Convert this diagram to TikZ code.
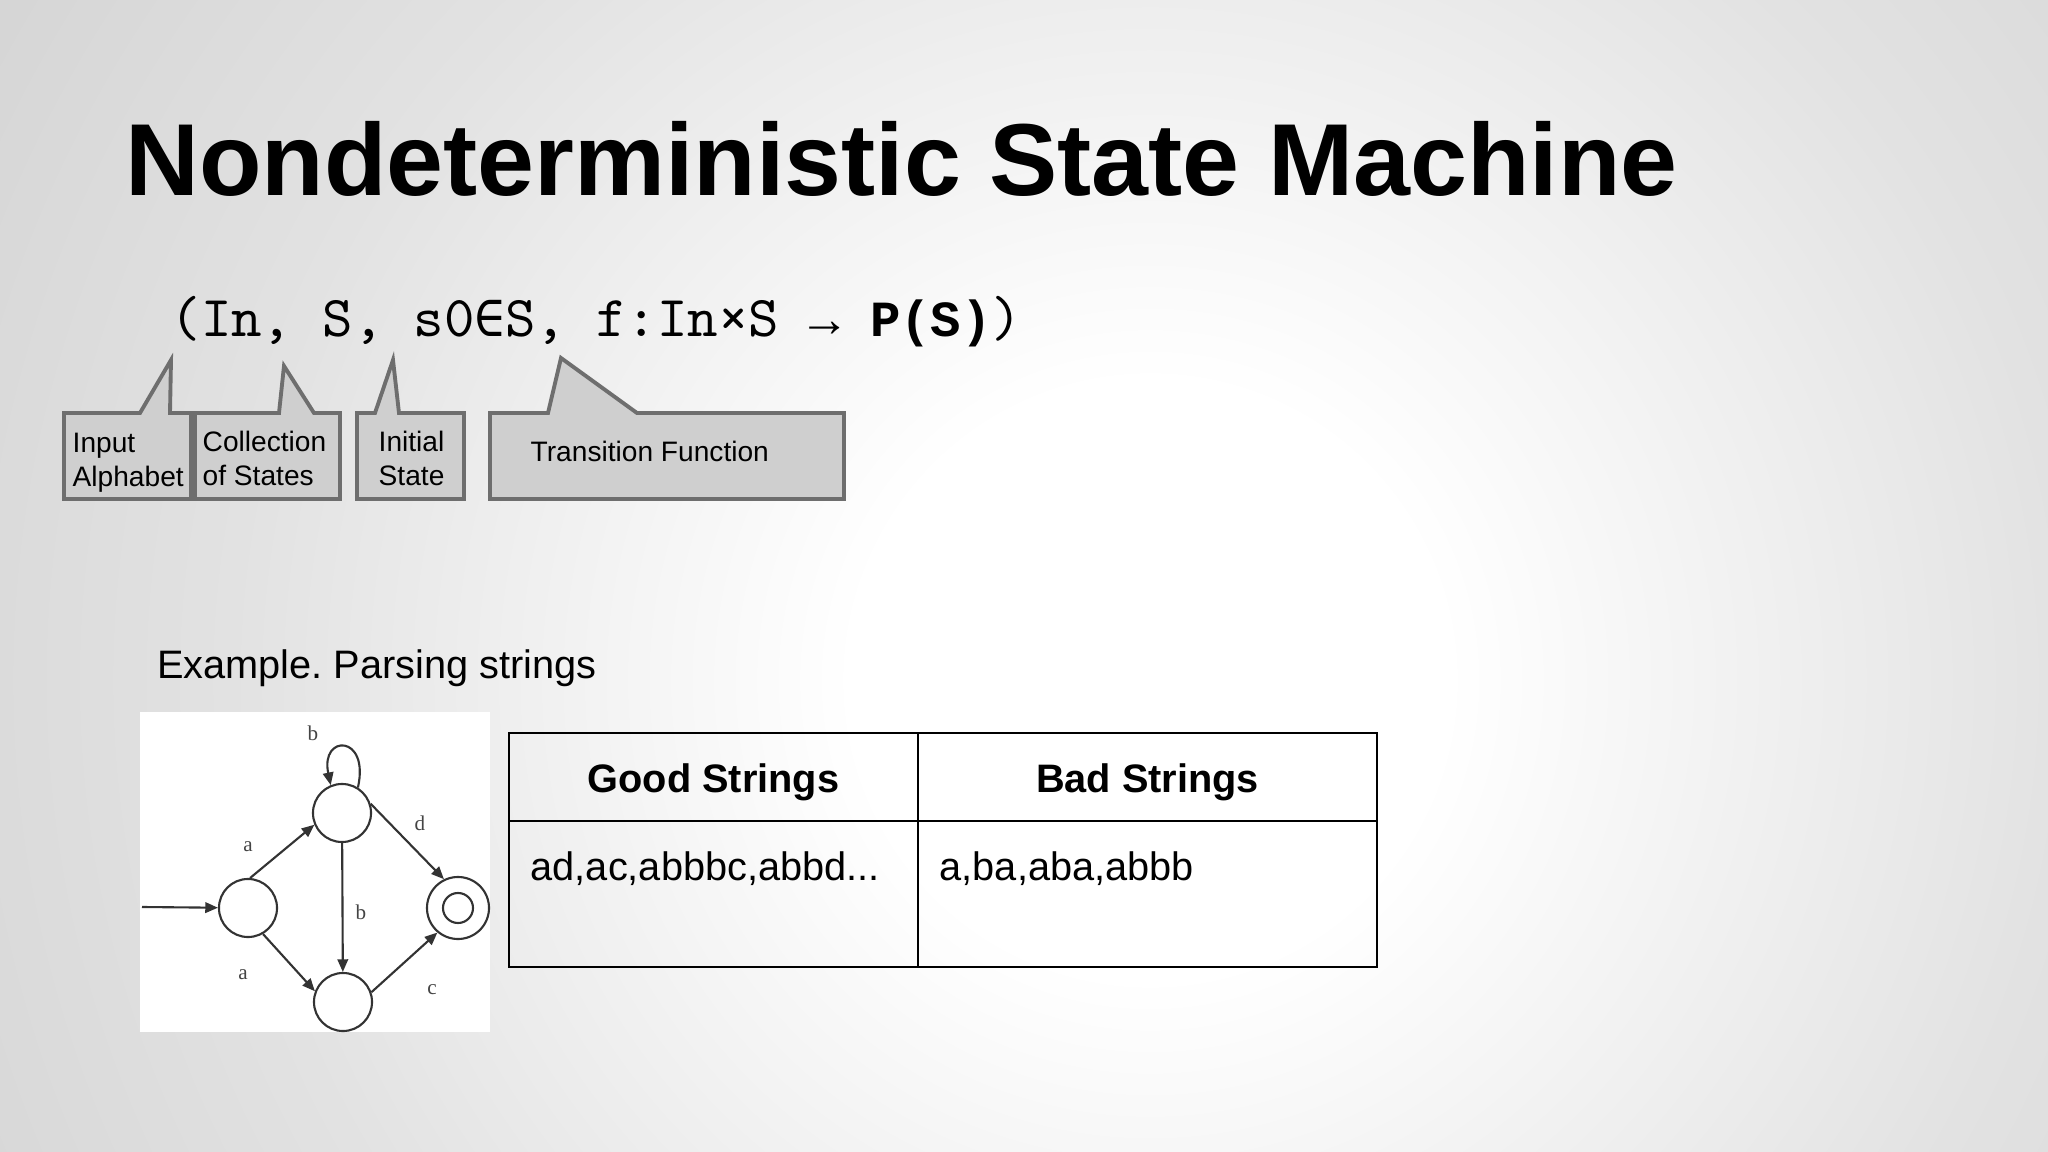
\documentclass[tikz,border=0pt]{standalone}
\usepackage{fontspec}
\setmainfont{Liberation Sans}
\newfontfamily\lmmono{lmmono10-regular}[Extension=.otf]
\newfontfamily\monofont{Liberation Mono}
\newfontfamily\djmono{DejaVu Sans Mono}
\newfontfamily\lblfont{Liberation Serif}
\usetikzlibrary{arrows.meta}
\frenchspacing
\definecolor{bgmid}{HTML}{E2E2E2}
\definecolor{bggray}{HTML}{CCCCCC}
\definecolor{calloutfill}{HTML}{CFCFCF}
\definecolor{calloutline}{HTML}{6E6E6E}
\definecolor{autline}{HTML}{333333}
\definecolor{lblcol}{HTML}{444444}
\pgfdeclareradialshading{bgshade}{\pgfpoint{0bp}{0bp}}{color(0bp)=(white); color(5.7bp)=(white); color(17.7bp)=(bgmid); color(31.8bp)=(bggray); color(50bp)=(bggray)}
\tikzset{
  callout/.style={fill=calloutfill, draw=calloutline, line width=1.1pt, line join=miter},
  callouttext/.style={inner sep=0pt, align=left, font=\fontsize{8}{9.6}\selectfont},
  tableline/.style={draw=black, line width=0.7pt},
  bodytext/.style={inner sep=0pt, font=\fontsize{11.3}{13.5}\selectfont},
  headtext/.style={inner sep=0pt, font=\fontsize{11.3}{13.5}\selectfont\bfseries},
  state/.style={circle, draw=autline, line width=0.6pt, minimum size=0.58cm, inner sep=0pt},
  autarrow/.style={draw=autline, line width=0.6pt, -{Triangle[length=3.6pt,width=3pt]}},
  lbl/.style={inner sep=0pt, text=lblcol, font=\lblfont\fontsize{6}{7}\selectfont}
}
\begin{document}
\begin{tikzpicture}[x=0.01cm,y=-0.01cm]
\useasboundingbox (0,0) rectangle (2048,1152);
\begin{scope}
  \clip (0,0) rectangle (2048,1152);
  \shade[shading=bgshade] (-150,-620) rectangle (2450,1980);
\end{scope}

% title
\node[anchor=base west, inner sep=0pt, font=\fontsize{29.1}{34}\selectfont\bfseries] (title) at (124.5,196) {Nondeterministic State Machine};

% formula
\node[anchor=base west, inner sep=0pt, font=\lmmono\fontsize{16.47}{19}\selectfont] (formula) at (170,337) {(In, S, s0{\djmono\fontsize{14.4}{17}\selectfont ∈}S, f:In×S {\monofont\fontsize{14.4}{17}\selectfont →} {\monofont\bfseries\fontsize{14.4}{17}\selectfont P(S)})};

% callouts
\draw[callout] (64,413) -- (140,413) -- (171,360) -- (170,413) -- (191,413) -- (191,499) -- (64,499) -- cycle;
\draw[callout] (195,413) -- (279,413) -- (284,366) -- (314,413) -- (340,413) -- (340,499) -- (195,499) -- cycle;
\draw[callout] (357,413) -- (375,413) -- (393,360) -- (399,413) -- (464,413) -- (464,499) -- (357,499) -- cycle;
\draw[callout] (490,413) -- (548,413) -- (561,358) -- (637,413) -- (844,413) -- (844,499) -- (490,499) -- cycle;
\node[callouttext, anchor=west] (tinput) at (72,462.5) {Input\\Alphabet};
\node[callouttext, anchor=west] (tcoll) at (202,458.6) {Collection\\of States};
\node[callouttext, anchor=west] (tinit) at (378,458.6) {Initial\\State};
\node[callouttext, anchor=west] (ttrans) at (530,451) {Transition Function};

% example heading
\node[bodytext, anchor=base west] (example) at (156.6,679) {Example. Parsing strings};

% automaton picture
\fill[white] (140,712) rectangle (490,1032);
\node[state] (q0) at (248,908) {};
\node[state] (q1) at (342,813) {};
\node[state] (q2) at (343,1002) {};
\node[state, minimum size=0.62cm] (q3) at (458,908) {};
\node[state, minimum size=0.30cm] (q3in) at (458,908) {};
\coordinate (init) at (142,907);
\draw[autarrow] (init) -- (q0);
\draw[autarrow] (q0.86) -- (q1.203);
\draw[autarrow] (q0.300) -- (q2.159);
\draw[autarrow] (q1) -- (q2);
\draw[autarrow] (q1.18) -- (q3.116);
\draw[autarrow] (q2.19) -- (q3.230);
\draw[autarrow] (q1.58) .. controls (370,734) and (320,734) .. (q1.112);
\node[lbl] (lb1) at (313,733) {b};
\node[lbl] (la1) at (248,847) {a};
\node[lbl] (la2) at (243,975) {a};
\node[lbl] (lb2) at (361,912) {b};
\node[lbl] (ld) at (420,823) {d};
\node[lbl] (lc) at (432,990) {c};

% table
\draw[tableline] (509,733) rectangle (1377,967);
\draw[tableline] (918,733) -- (918,967);
\draw[tableline] (509,821) -- (1377,821);
\node[headtext, anchor=base] (hgood) at (713.5,792.6) {Good Strings};
\node[headtext, anchor=base] (hbad) at (1147.5,792.6) {Bad Strings};
\node[bodytext, anchor=base west] (good) at (530,880) {ad,ac,abbbc,abbd...};
\node[bodytext, anchor=base west] (bad) at (939,880) {a,ba,aba,abbb};
\end{tikzpicture}
\end{document}
